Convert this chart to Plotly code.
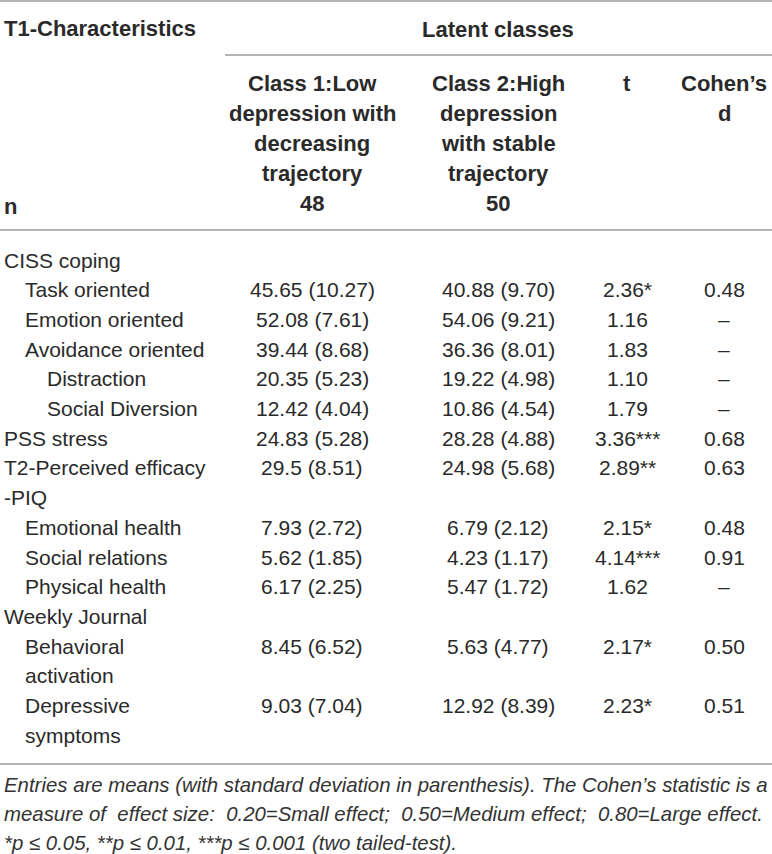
import plotly.graph_objects as go

# table content
row_labels = [
    ["CISS coping"],
    ["Task oriented"],
    ["Emotion oriented"],
    ["Avoidance oriented"],
    ["Distraction"],
    ["Social Diversion"],
    ["PSS stress"],
    ["T2-Perceived efficacy", "-PIQ"],
    ["Emotional health"],
    ["Social relations"],
    ["Physical health"],
    ["Weekly Journal"],
    ["Behavioral", "activation"],
    ["Depressive", "symptoms"],
]
row_indent = [0, 1, 1, 1, 2, 2, 0, 0, 1, 1, 1, 0, 1, 1]
class1 = ["", "45.65 (10.27)", "52.08 (7.61)", "39.44 (8.68)", "20.35 (5.23)", "12.42 (4.04)",
          "24.83 (5.28)", "29.5 (8.51)", "7.93 (2.72)", "5.62 (1.85)", "6.17 (2.25)", "",
          "8.45 (6.52)", "9.03 (7.04)"]
class2 = ["", "40.88 (9.70)", "54.06 (9.21)", "36.36 (8.01)", "19.22 (4.98)", "10.86 (4.54)",
          "28.28 (4.88)", "24.98 (5.68)", "6.79 (2.12)", "4.23 (1.17)", "5.47 (1.72)", "",
          "5.63 (4.77)", "12.92 (8.39)"]
t_vals = ["", "2.36", "1.16", "1.83", "1.10", "1.79", "3.36", "2.89", "2.15", "4.14", "1.62", "",
          "2.17", "2.23"]
t_stars = ["", "*", "", "", "", "", "***", "**", "*", "***", "", "", "*", "*"]
d_vals = ["", "0.48", "–", "–", "–", "–", "0.68", "0.63", "0.48", "0.91", "–", "", "0.50", "0.51"]

class1_head = ["Class 1:Low", "depression with", "decreasing", "trajectory", "48"]
class2_head = ["Class 2:High", "depression", "with stable", "trajectory", "50"]
t_head = ["t"]
d_head = ["Cohen’s", "d"]

footnote = [
    "Entries are means (with standard deviation in parenthesis). The Cohen’s statistic is a",
    "measure of effect size: 0.20=Small effect; 0.50=Medium effect; 0.80=Large effect.",
    "*p ≤ 0.05, **p ≤ 0.01, ***p ≤ 0.001 (two tailed-test).",
]

FONT = "Liberation Sans, Arial, sans-serif"
TXT = "#2a2a2a"
RULE = "#b4b4b4"
W, H = 772, 854

col_x = [312, 498, 627, 724]
indent_x = [2, 23, 45]
pitch = 29.7
body_top = 260
head_top = 83
HEAD_SIZE = 22

fig = go.Figure()
fig.add_trace(go.Scatter(x=[0, W], y=[0, H], mode="markers", marker=dict(opacity=0),
                         hoverinfo="skip", showlegend=False))

ann = []


def put(x, y, text, xanchor="center", size=21, color=TXT, italic=False):
    ann.append(dict(x=x, y=y, xref="x", yref="y", text=text, showarrow=False,
                    xanchor=xanchor, yanchor="middle",
                    font=dict(family=FONT, size=size, color=color,
                              style="italic" if italic else "normal")))


def widen(line, extra):
    # rough justification: add non-breaking spaces to every other gap
    words = line.split(" ")
    out = words[0]
    for i, w in enumerate(words[1:]):
        out += (" \u00a0" if i % 2 == 1 and extra > 0 else " ") + w
        if i % 2 == 1:
            extra -= 1
    return out


# header
put(2, 28, "<b>T1-Characteristics</b>", xanchor="left", size=HEAD_SIZE)
put(498, 29, "<b>Latent classes</b>", size=HEAD_SIZE)
for i, line in enumerate(class1_head):
    put(col_x[0], head_top + i * 30, f"<b>{line}</b>", size=HEAD_SIZE)
for i, line in enumerate(class2_head):
    put(col_x[1], head_top + i * 30, f"<b>{line}</b>", size=HEAD_SIZE)
for i, line in enumerate(t_head):
    put(col_x[2], head_top + i * 30, f"<b>{line}</b>", size=HEAD_SIZE)
for i, line in enumerate(d_head):
    put(col_x[3], head_top + i * 30, f"<b>{line}</b>", size=HEAD_SIZE)
put(2, 206, "<b>n</b>", xanchor="left", size=HEAD_SIZE)

# body
slot = 0
for lines, ind, c1, c2, tv, ts, dv in zip(row_labels, row_indent, class1, class2, t_vals, t_stars, d_vals):
    y0 = body_top + slot * pitch
    for k, line in enumerate(lines):
        put(indent_x[ind], y0 + k * pitch, line, xanchor="left")
    if c1:
        put(col_x[0], y0, c1)
        put(col_x[1], y0, c2)
        put(col_x[2], y0, tv + ts)
        put(col_x[3], y0, dv)
    slot += len(lines)

# footnote
put(2, 785, footnote[0], xanchor="left", size=20.4, color="#333333", italic=True)
put(2, 814, widen(footnote[1], 4), xanchor="left", size=20.4, color="#333333", italic=True)
put(2, 843, footnote[2], xanchor="left", size=20.4, color="#333333", italic=True)

rules = [(0, W, 1), (225, W, 55), (0, W, 230), (0, W, 764)]
shapes = [dict(type="line", xref="x", yref="y", x0=a, x1=b, y0=y, y1=y,
               line=dict(color=RULE, width=2)) for a, b, y in rules]

fig.update_layout(
    width=W, height=H,
    margin=dict(l=0, r=0, t=0, b=0),
    paper_bgcolor="white", plot_bgcolor="white",
    xaxis=dict(range=[0, W], visible=False, fixedrange=True),
    yaxis=dict(range=[H, 0], visible=False, fixedrange=True),
    annotations=ann, shapes=shapes,
    showlegend=False,
)

fig.write_html("out.html", config={"displayModeBar": False},
               post_script="document.body.style.margin='0px';")
